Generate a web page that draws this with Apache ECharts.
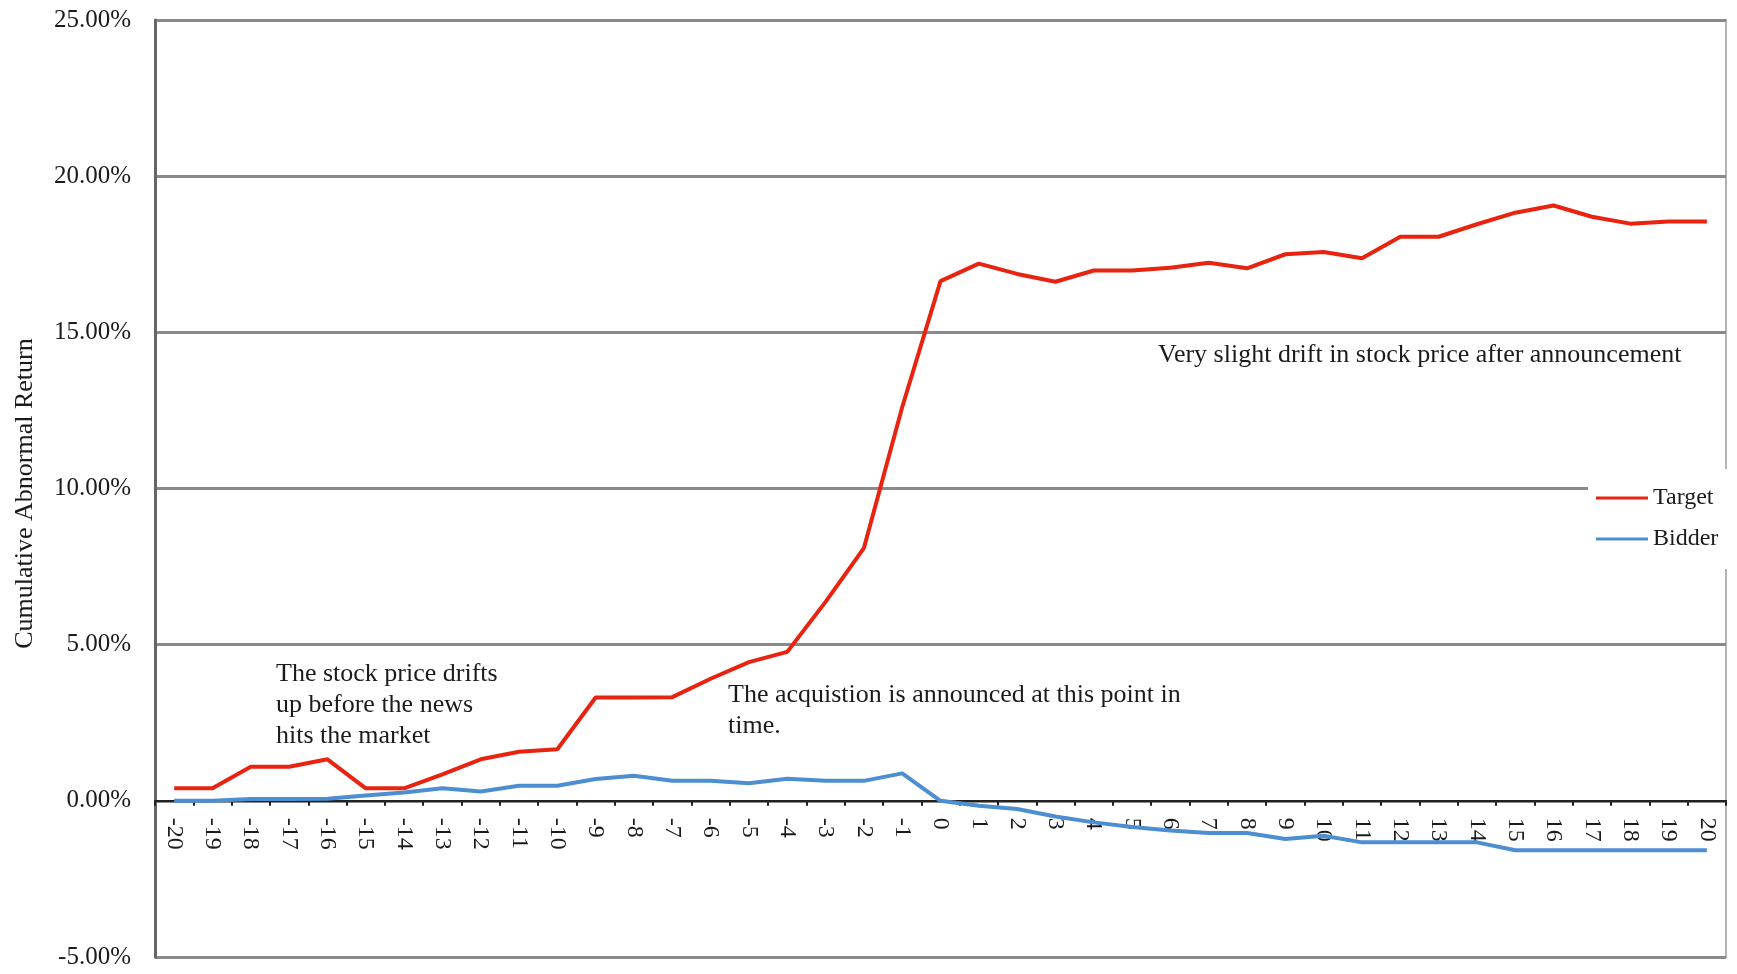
<!DOCTYPE html>
<html>
<head>
<meta charset="utf-8">
<title>Cumulative Abnormal Return</title>
<script src="https://cdn.jsdelivr.net/npm/echarts@6/dist/echarts.min.js"></script>
<style>
  html, body { margin: 0; padding: 0; background: #fff; }
  #chart { width: 1737px; height: 974px; }
</style>
</head>
<body>
<div id="chart"></div>
<script>
// Event days around the announcement (day 0)
const days = [];
for (let d = -20; d <= 20; d++) days.push(String(d));

// Cumulative abnormal return, in percent
const target = [0.40, 0.40, 1.09, 1.09, 1.33, 0.40, 0.40, 0.85, 1.33, 1.57,
  1.65, 3.31, 3.31, 3.32, 3.91, 4.44, 4.77, 6.37, 8.09, 12.6,
  16.64, 17.2, 16.87, 16.62, 16.98, 16.98, 17.07, 17.23, 17.05, 17.5,
  17.57, 17.37, 18.06, 18.06, 18.46, 18.83, 19.06, 18.70, 18.48, 18.55, 18.55];
const bidder = [0.0, 0.0, 0.06, 0.06, 0.07, 0.17, 0.27, 0.40, 0.30, 0.48,
  0.48, 0.70, 0.80, 0.64, 0.64, 0.56, 0.71, 0.64, 0.64, 0.88,
  0.0, -0.16, -0.26, -0.50, -0.69, -0.84, -0.95, -1.03, -1.03, -1.22,
  -1.12, -1.33, -1.33, -1.33, -1.33, -1.58, -1.58, -1.58, -1.58, -1.58, -1.58];

const seriesNames = ['Target', 'Bidder'];
const yTitle = 'Cumulative Abnormal Return';
const notes = [
  'The stock price drifts\nup before the news\nhits the market',
  'The acquistion is announced at this point in\ntime.',
  'Very slight drift in stock price after announcement'
];

const Y_MIN = -5, Y_MAX = 25, Y_STEP = 5;
const GRID = { left: 155, right: 11, top: 20, bottom: 17 };
const H = 974;

const serif = '"Liberation Serif", "Times New Roman", serif';
const ink = '#1b1b1b';

const chart = echarts.init(document.getElementById('chart'), null, { renderer: 'canvas' });

// The category axis sits on the 0% line: shift it up from the grid bottom
const plotH = H - GRID.top - GRID.bottom;
const zeroShift = plotH * (0 - Y_MIN) / (Y_MAX - Y_MIN);

const noteStyle = (text) => ({
  text: text,
  font: '26px ' + serif,
  fill: ink,
  lineHeight: 31,
  verticalAlign: 'top',
  align: 'left'
});

chart.setOption({
  animation: false,
  backgroundColor: '#fff',
  grid: Object.assign({
    show: true, borderColor: '#b4b4b4', borderWidth: 2
  }, GRID),
  legend: {
    data: seriesNames,
    orient: 'vertical',
    left: 1588, top: 469,
    icon: 'rect',
    itemWidth: 52, itemHeight: 3,
    itemGap: 17,
    padding: [17, 12, 18, 8],
    backgroundColor: '#fff',
    textStyle: { fontFamily: serif, fontSize: 24, color: ink }
  },
  xAxis: {
    type: 'category',
    data: days,
    boundaryGap: true,
    offset: -zeroShift,
    axisLine: { onZero: false, lineStyle: { color: '#222', width: 2 } },
    axisTick: { show: true, length: 5, lineStyle: { color: '#222', width: 2 } },
    axisLabel: {
      interval: 0, rotate: -90, margin: 17,
      fontFamily: serif, fontSize: 24, color: ink
    },
    splitLine: { show: false }
  },
  yAxis: {
    type: 'value',
    min: Y_MIN, max: Y_MAX, interval: Y_STEP,
    axisLine: { show: true, lineStyle: { color: '#666', width: 3 } },
    axisTick: { show: false },
    axisLabel: {
      margin: 24, fontFamily: serif, fontSize: 25, color: ink,
      formatter: (v) => v.toFixed(2) + '%'
    },
    splitLine: { show: true, lineStyle: { color: '#8a8a8a', width: 3 } }
  },
  series: [
    {
      name: seriesNames[0], type: 'line', data: target,
      symbol: 'none', z: 3,
      lineStyle: { color: '#e8230f', width: 4 },
      itemStyle: { color: '#e8230f' }
    },
    {
      name: seriesNames[1], type: 'line', data: bidder,
      symbol: 'none', z: 3,
      lineStyle: { color: '#4d8ed2', width: 4 },
      itemStyle: { color: '#4d8ed2' }
    }
  ],
  graphic: [
    {
      type: 'text', x: 25, y: GRID.top + plotH / 2 + 5, rotation: Math.PI / 2, z: 10,
      style: {
        text: yTitle, font: '26px ' + serif, fill: ink,
        align: 'center', verticalAlign: 'middle'
      }
    },
    { type: 'text', left: 276, top: 659, z: 10, style: noteStyle(notes[0]) },
    { type: 'text', left: 728, top: 680, z: 10, style: noteStyle(notes[1]) },
    { type: 'text', left: 1158, top: 340, z: 10, style: noteStyle(notes[2]) }
  ]
});
</script>
</body>
</html>
